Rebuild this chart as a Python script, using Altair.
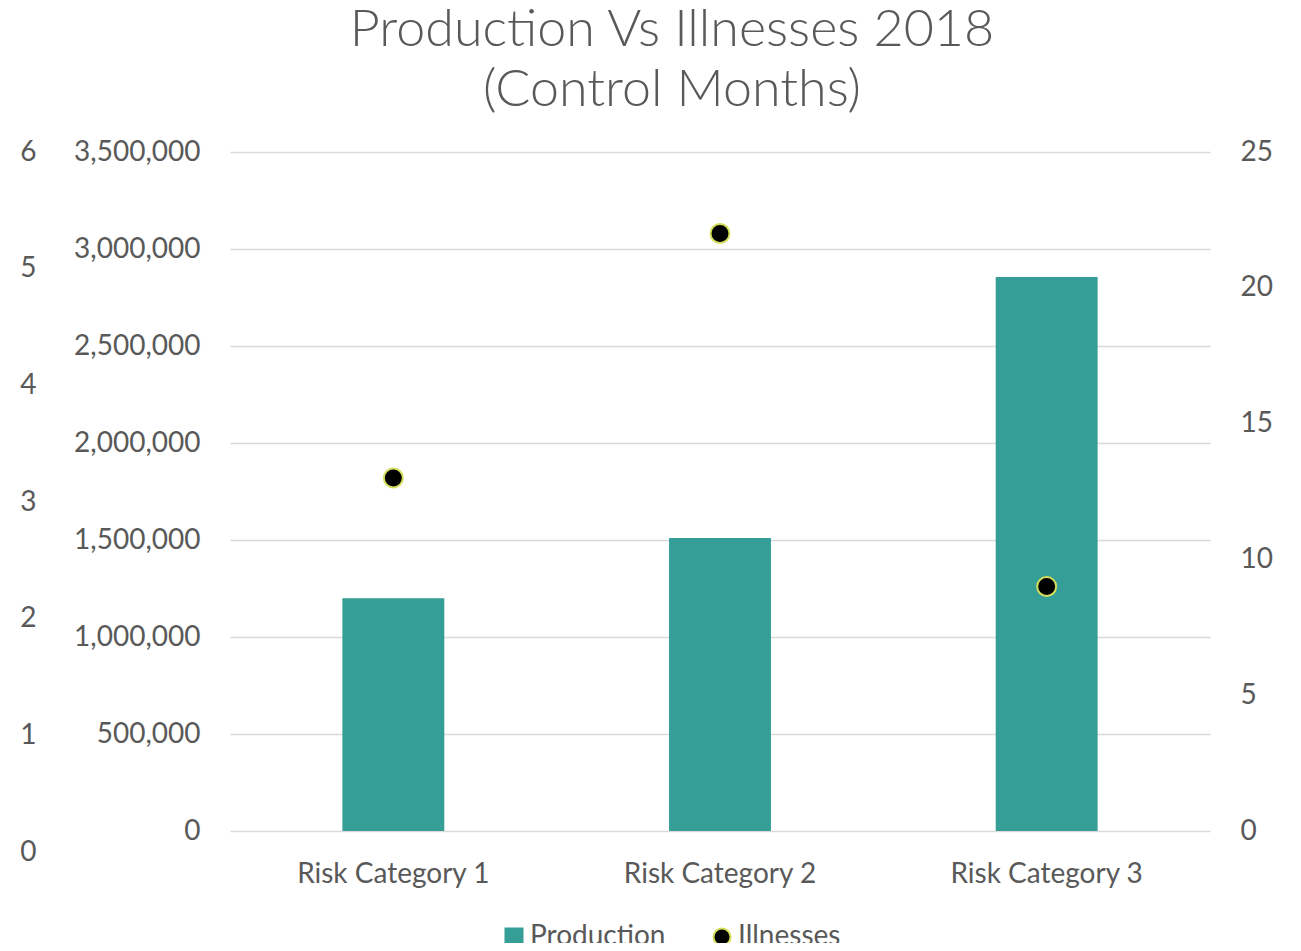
import altair as alt
import pandas as pd

categories = ["Risk Category 1", "Risk Category 2", "Risk Category 3"]
production = [1200000, 1510000, 2856000]
illnesses = [13, 22, 9]

series = ["Production", "Illnesses"]
series_fill = ["#359E96", "#000000"]
series_stroke = ["#359E96", "#D4DE5A"]
series_shape = ["square", "circle"]

left_ticks = [0, 500000, 1000000, 1500000, 2000000, 2500000, 3000000, 3500000]
right_ticks = [0, 5, 10, 15, 20, 25]
outer_ticks = [0, 1, 2, 3, 4, 5, 6]

df = pd.DataFrame({"category": categories, "production": production, "illnesses": illnesses})
legend_df = pd.DataFrame({"series": series})
outer_df = pd.DataFrame({"v": outer_ticks})

FONT = "Lato"
TXT = "#595959"
LBL = 28

x_enc = alt.X(
    "category:N", sort=categories,
    scale=alt.Scale(paddingInner=0, paddingOuter=0),
    axis=alt.Axis(title=None, labelAngle=0, ticks=False, domain=False, labelPadding=29,
                  labelLimit=400, labelBaseline="top", labelFontSize=LBL, labelFont=FONT,
                  labelColor=TXT),
)

bars = alt.Chart(df).mark_bar(width=alt.RelativeBandSize(0.312), color="#359E96").encode(
    x=x_enc,
    y=alt.Y("production:Q", scale=alt.Scale(domain=[0, 3500000], nice=False),
            axis=alt.Axis(orient="left", title=None, values=left_ticks, format=",.0f",
                          grid=True, gridColor="#D9D9D9", gridWidth=1.5,
                          ticks=False, domain=False, labelPadding=30,
                          labelFontSize=LBL, labelFont=FONT, labelColor=TXT)),
)

points = alt.Chart(df).mark_point(filled=True, size=360, fill="#000000", stroke="#D4DE5A",
                                   strokeWidth=2, opacity=1).encode(
    x=x_enc,
    y=alt.Y("illnesses:Q", scale=alt.Scale(domain=[0, 25], nice=False),
            axis=alt.Axis(orient="right", title=None, values=right_ticks, grid=False,
                          ticks=False, domain=False, labelPadding=30,
                          labelFontSize=LBL, labelFont=FONT, labelColor=TXT)),
)

outer = alt.Chart(outer_df).mark_point(opacity=0).encode(
    x=alt.value(0),
    y=alt.Y("v:Q", scale=alt.Scale(domain=[0, 6], range=[700, 0], nice=False),
            axis=alt.Axis(orient="left", offset=190, title=None, values=outer_ticks, grid=False,
                          ticks=False, domain=False, labelPadding=4,
                          labelFontSize=LBL, labelFont=FONT, labelColor=TXT)),
)

legend_layer = alt.Chart(legend_df).mark_point(filled=True, size=0, opacity=1).encode(
    x=alt.value(0),
    y=alt.value(0),
    fill=alt.Fill("series:N", scale=alt.Scale(domain=series, range=series_fill),
                  legend=alt.Legend(title=None, orient="none", legendX=270, legendY=771,
                                    direction="horizontal", labelFontSize=LBL, labelFont=FONT,
                                    labelColor=TXT, symbolSize=290, symbolStrokeWidth=2,
                                    symbolOpacity=1, labelOffset=2, columnPadding=42,
                                    labelLimit=400, padding=0)),
    shape=alt.Shape("series:N", scale=alt.Scale(domain=series, range=series_shape)),
    stroke=alt.Stroke("series:N", scale=alt.Scale(domain=series, range=series_stroke)),
)

chart = alt.layer(bars, points, outer, legend_layer).resolve_scale(
    y="independent"
).properties(
    width=980,
    height=679,
    padding={"left": 222, "top": 144, "right": 83, "bottom": 112},
    autosize=alt.AutoSizeParams(type="none"),
    title=alt.TitleParams(
        text=["Production Vs Illnesses 2018", "(Control Months)"],
        fontSize=52, font=FONT, fontWeight=300, color=TXT,
        anchor="middle", frame="group", dx=-48, offset=21, lineHeight=60,
    ),
).configure_view(stroke=None)

chart.save("out.html", embed_options={"renderer": "svg", "actions": False})
